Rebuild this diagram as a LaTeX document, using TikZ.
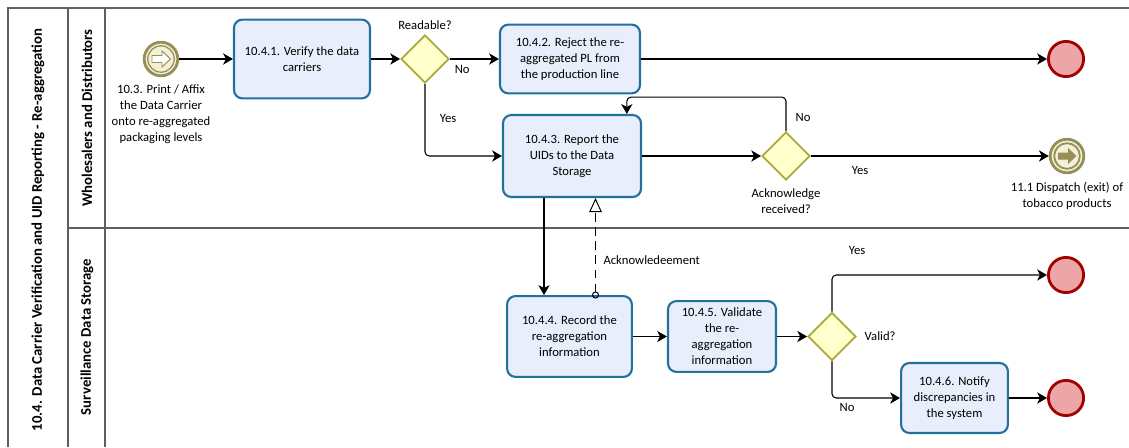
\documentclass[tikz,border=0pt]{standalone}
\usepackage{fontspec}
\setmainfont{Carlito}
\usepackage{tikz}
\usetikzlibrary{arrows.meta,positioning,calc,shapes.geometric}

\definecolor{taskfill}{RGB}{232,238,251}
\definecolor{taskline}{RGB}{34,112,158}
\definecolor{gatefill}{RGB}{255,255,204}
\definecolor{gateline}{RGB}{170,170,52}
\definecolor{stopfill}{RGB}{236,166,168}
\definecolor{stopline}{RGB}{163,0,0}
\definecolor{evfill}{RGB}{242,240,214}
\definecolor{evline}{RGB}{150,144,88}
\definecolor{laneline}{RGB}{95,95,95}

\begin{document}
\begin{tikzpicture}[x=0.025cm, y=-0.025cm, >={Stealth[length=7pt,width=8pt,inset=2pt]},
    every node/.style={font=\fontsize{9}{11.4}\selectfont},
    task/.style 2 args={draw=taskline, fill=taskfill, line width=1.5pt, rounded corners=6pt,
        align=center, minimum width=#1, minimum height=#2, inner sep=2pt},
    gate/.style={diamond, draw=gateline, fill=gatefill, line width=1.3pt,
        minimum width=1.2cm, minimum height=1.2cm, inner sep=0pt},
    stopev/.style={circle, draw=stopline, fill=stopfill, line width=2pt, minimum size=0.88cm, inner sep=0pt},
    linkev/.style={circle, draw=evline, fill=evfill, line width=2pt, minimum size=0.84cm, inner sep=0pt},
    flow/.style={->, line width=0.75pt},
    lane/.style={draw=laneline, line width=0.8pt},
    lanetitle/.style={rotate=90, font=\fontsize{10.5}{12}\selectfont\bfseries}]

    \useasboundingbox (0,0) rectangle (1129,447);

    % Pool and lanes
    \draw[lane] (8,447) -- (8,8) -- (1129,8);
    \draw[lane] (68,8) -- (68,447);
    \draw[lane] (105,8) -- (105,447);
    \draw[lane] (68,228) -- (1129,228);
    \node[lanetitle] (pooltitle) at (38,230) {10.4. Data Carrier Verification and UID Reporting - Re-aggregation};
    \node[lanetitle] (laneA) at (87,118) {Wholesalers and Distributors};
    \node[lanetitle] (laneB) at (87,337) {Surveillance Data Storage};

    % Wholesalers and Distributors
    \node[linkev] (startev) at (161,59) {};
    \draw[evline, line width=0.9pt] (startev.center) circle (0.33cm);
    \draw[evline, fill=white, line width=0.7pt, shift={(startev.center)}]
        (-9,-3.5) -- (1,-3.5) -- (1,-8) -- (9.5,0) -- (1,8) -- (1,3.5) -- (-9,3.5) -- cycle;
    \node[below=2pt of startev, align=center] (startlbl) {10.3. Print / Affix\\the Data Carrier\\onto re-aggregated\\packaging levels};

    \node[task={3.4cm}{1.97cm}] (verify) at (302,59) {10.4.1. Verify the data\\carriers};
    \node[gate] (readable) at (425,59) {};
    \node[above=0pt of readable] (readlbl) {Readable?};
    \node[task={3.5cm}{1.72cm}] (reject) at (570,59) {10.4.2. Reject the re-\\aggregated PL from\\the production line};
    \node[stopev] (stopA) at (1066,59) {};

    \node[task={3.45cm}{2.05cm}] (report) at (572,156) {10.4.3. Report the\\UIDs to the Data\\Storage};
    \node[gate] (acked) at (786,156) {};
    \node[below=2pt of acked, align=center] (acklbl) {Acknowledge\\received?};
    \node[linkev] (exitev) at (1067,156) {};
    \draw[evline, line width=1.3pt] (exitev.center) circle (0.32cm);
    \fill[evline, shift={(exitev.center)}]
        (-9,-3.5) -- (1,-3.5) -- (1,-8) -- (9.5,0) -- (1,8) -- (1,3.5) -- (-9,3.5) -- cycle;
    \node[below=2pt of exitev, align=center] (exitlbl) {11.1 Dispatch (exit) of\\tobacco products};

    % Surveillance Data Storage
    \node[task={3.12cm}{2.02cm}] (record) at (569.5,336.5) {10.4.4. Record the\\re-aggregation\\information};
    \node[task={2.7cm}{1.77cm}] (validate) at (722,336.5) {10.4.5. Validate\\the re-\\aggregation\\information};
    \node[gate] (valid) at (832,336.5) {};
    \node[right=2pt of valid] (validlbl) {Valid?};
    \node[task={2.67cm}{1.75cm}] (notify) at (954.5,398) {10.4.6. Notify\\discrepancies in\\the system};
    \node[stopev] (stopB) at (1066,275) {};
    \node[stopev] (stopC) at (1066,398) {};

    % Sequence flows
    \draw[flow] (startev) -- (verify);
    \draw[flow] (verify) -- (readable);
    \draw[flow] (readable) -- node[pos=0.25, below=1pt] (noA) {No} (reject);
    \draw[flow, rounded corners=3pt] (readable.south) |- (report.west);
    \node (yesA) at (448,118) {Yes};
    \draw[flow] (reject) -- (stopA);
    \draw[flow] (report) -- (acked);
    \draw[flow, rounded corners=3pt] (acked.north) -- ++(0,-34) -| ([xshift=1.37cm]report.north);
    \node (noB) at (803,117) {No};
    \draw[flow] (acked) -- (exitev);
    \node (yesB) at (860,170) {Yes};
    \draw[flow] ([xshift=-0.7cm]report.south) -- ([xshift=-0.7cm]report.south |- record.north);
    \draw[flow] (record) -- (validate);
    \draw[flow] (validate) -- (valid);
    \draw[flow, rounded corners=3pt] (valid.north) |- (stopB.west);
    \node (yesC) at (857,250) {Yes};
    \draw[flow, rounded corners=3pt] (valid.south) |- (notify.west);
    \node (noC) at (847,407) {No};
    \draw[flow] (notify) -- (stopC);

    % Message flow back to the report
    \draw[line width=0.7pt, dash pattern=on 6pt off 4pt,
        {Circle[open,length=5pt,width=5pt]}-{Triangle[open,length=10pt,width=9pt]}]
        ([xshift=0.65cm, yshift=-2.5pt]record.north) -- node[pos=0.38, right=2pt] (acklink) {Acknowledeement}
        ([xshift=0.65cm]record.north |- report.south);
\end{tikzpicture}
\end{document}
